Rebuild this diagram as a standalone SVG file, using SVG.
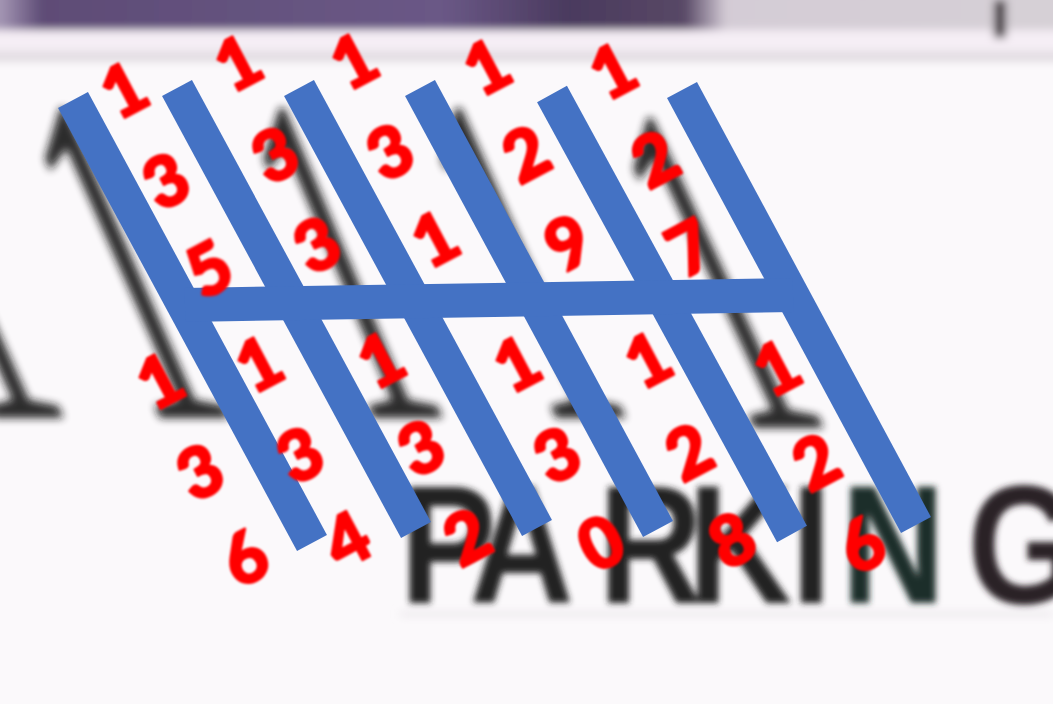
<svg xmlns="http://www.w3.org/2000/svg" width="1053" height="704" viewBox="0 0 1053 704">
  <defs>
    <linearGradient id="band" x1="0" y1="0" x2="1053" y2="0" gradientUnits="userSpaceOnUse">
      <stop offset="0" stop-color="#a496b4"/>
      <stop offset="0.04" stop-color="#5e4c76"/>
      <stop offset="0.42" stop-color="#6a5886"/>
      <stop offset="0.54" stop-color="#4a3a5e"/>
      <stop offset="0.65" stop-color="#584866"/>
      <stop offset="0.69" stop-color="#d4ccd6"/>
      <stop offset="1" stop-color="#d6d0d6"/>
    </linearGradient>
    <filter id="blurBg" x="-10%" y="-10%" width="120%" height="120%">
      <feGaussianBlur stdDeviation="4"/>
    </filter>
    <filter id="blurTxt" x="-5%" y="-20%" width="110%" height="140%">
      <feGaussianBlur stdDeviation="3"/>
    </filter>
    <filter id="blurSoft">
      <feGaussianBlur stdDeviation="0.8"/>
    </filter>
    <style>
      .bar { fill: none; stroke: #4472c4; stroke-width: 34; stroke-linecap: butt; }
      .num { font-family: Lato, "DejaVu Sans", sans-serif; font-weight: 900; font-size: 70px; fill: #ff0000; stroke: #ff0000; stroke-width: 2.5; stroke-linejoin: round; text-anchor: middle; }
      .big1 { font-family: "Liberation Serif", serif; font-size: 470px; fill: #141414; text-anchor: middle; }
      .park { font-family: "Liberation Sans", sans-serif; font-weight: bold; font-size: 168px; fill: #242424; }
    </style>
  </defs>

  <!-- photo background -->
  <g id="background">
    <rect x="0" y="0" width="1053" height="704" fill="#fbf9fb"/>
    <g filter="url(#blurBg)">
      <rect x="-10" y="-10" width="1073" height="40" fill="url(#band)"/>
      <rect x="-10" y="30" width="1073" height="20" fill="#f5eef5"/>
      <rect x="-10" y="51" width="1073" height="11" fill="#e2dce2"/>
      <rect x="994" y="0" width="12" height="38" fill="#3a3038"/>
      <rect x="400" y="612" width="653" height="4" fill="#e8e4e8"/>
    </g>
    <g filter="url(#blurBg)" opacity="0.9">
      <text class="big1" transform="translate(26,418) skewX(24) scale(0.42,1)">1</text>
      <text class="big1" transform="translate(192,418) skewX(24) scale(0.42,1)">1</text>
      <text class="big1" transform="translate(405,418) skewX(23) scale(0.42,1)">1</text>
      <text class="big1" transform="translate(588,418) skewX(24) scale(0.42,1)">1</text>
      <text class="big1" transform="translate(786,428) skewX(25) scale(0.42,1)">1</text>
    </g>
    <g filter="url(#blurTxt)">
      <text class="park" transform="translate(0,603) scale(0.86,1)"><tspan x="465">P</tspan><tspan x="546">A</tspan><tspan x="696">R</tspan><tspan x="800">K</tspan><tspan x="920">I</tspan><tspan x="978" fill="#1b2d29">N</tspan><tspan x="1125" fill="#2a2226">G</tspan></text>
    </g>
  </g>

  <!-- blue lines -->
  <g id="connectors">
    <line class="bar" x1="73" y1="100" x2="312" y2="543"/>
    <line class="bar" x1="177" y1="88" x2="416" y2="530"/>
    <line class="bar" x1="299" y1="88" x2="537" y2="528"/>
    <line class="bar" x1="420" y1="88" x2="658" y2="529"/>
    <line class="bar" x1="552" y1="94" x2="792" y2="534"/>
    <line class="bar" x1="682" y1="90" x2="916" y2="525"/>
    <line class="bar" x1="185" y1="305" x2="793" y2="295"/>
  </g>

  <!-- red numbers -->
  <g id="numbers" filter="url(#blurSoft)">
    <text class="num" transform="translate(124,90) rotate(-28)" y="25">1</text>
    <text class="num" transform="translate(166,181) rotate(-28)" y="25">3</text>
    <text class="num" transform="translate(209,269) rotate(-28)" y="25">5</text>

    <text class="num" transform="translate(238,63) rotate(-28)" y="25">1</text>
    <text class="num" transform="translate(275,155) rotate(-28)" y="25">3</text>
    <text class="num" transform="translate(317,245) rotate(-28)" y="25">3</text>

    <text class="num" transform="translate(354,61) rotate(-28)" y="25">1</text>
    <text class="num" transform="translate(390,152) rotate(-28)" y="25">3</text>
    <text class="num" transform="translate(435,239) rotate(-28)" y="25">1</text>

    <text class="num" transform="translate(487,67) rotate(-28)" y="25">1</text>
    <text class="num" transform="translate(526,154) rotate(-28)" y="25">2</text>
    <text class="num" transform="translate(568,243) rotate(-28)" y="25">9</text>

    <text class="num" transform="translate(613,71) rotate(-28)" y="25">1</text>
    <text class="num" transform="translate(655,159) rotate(-28)" y="25">2</text>
    <text class="num" transform="translate(690,248) rotate(-28)" y="25">7</text>

    <text class="num" transform="translate(160,381) rotate(-28)" y="25">1</text>
    <text class="num" transform="translate(200,472) rotate(-28)" y="25">3</text>
    <text class="num" transform="translate(245,558) rotate(-28)" y="25">6</text>

    <text class="num" transform="translate(259,364) rotate(-28)" y="25">1</text>
    <text class="num" transform="translate(300,455) rotate(-28)" y="25">3</text>
    <text class="num" transform="translate(347,540) rotate(-28)" y="25">4</text>

    <text class="num" transform="translate(381,360) rotate(-28)" y="25">1</text>
    <text class="num" transform="translate(421,448) rotate(-28)" y="25">3</text>
    <text class="num" transform="translate(467,537) rotate(-28)" y="25">2</text>

    <text class="num" transform="translate(517,364) rotate(-28)" y="25">1</text>
    <text class="num" transform="translate(557,455) rotate(-28)" y="25">3</text>
    <text class="num" transform="translate(601,543) rotate(-28)" y="25">0</text>

    <text class="num" transform="translate(648,360) rotate(-28)" y="25">1</text>
    <text class="num" transform="translate(689,452) rotate(-28)" y="25">2</text>
    <text class="num" transform="translate(732,540) rotate(-28)" y="25">8</text>

    <text class="num" transform="translate(777,368) rotate(-28)" y="25">1</text>
    <text class="num" transform="translate(816,462) rotate(-28)" y="25">2</text>
    <text class="num" transform="translate(862,545) rotate(-28)" y="25">6</text>
  </g>
</svg>
